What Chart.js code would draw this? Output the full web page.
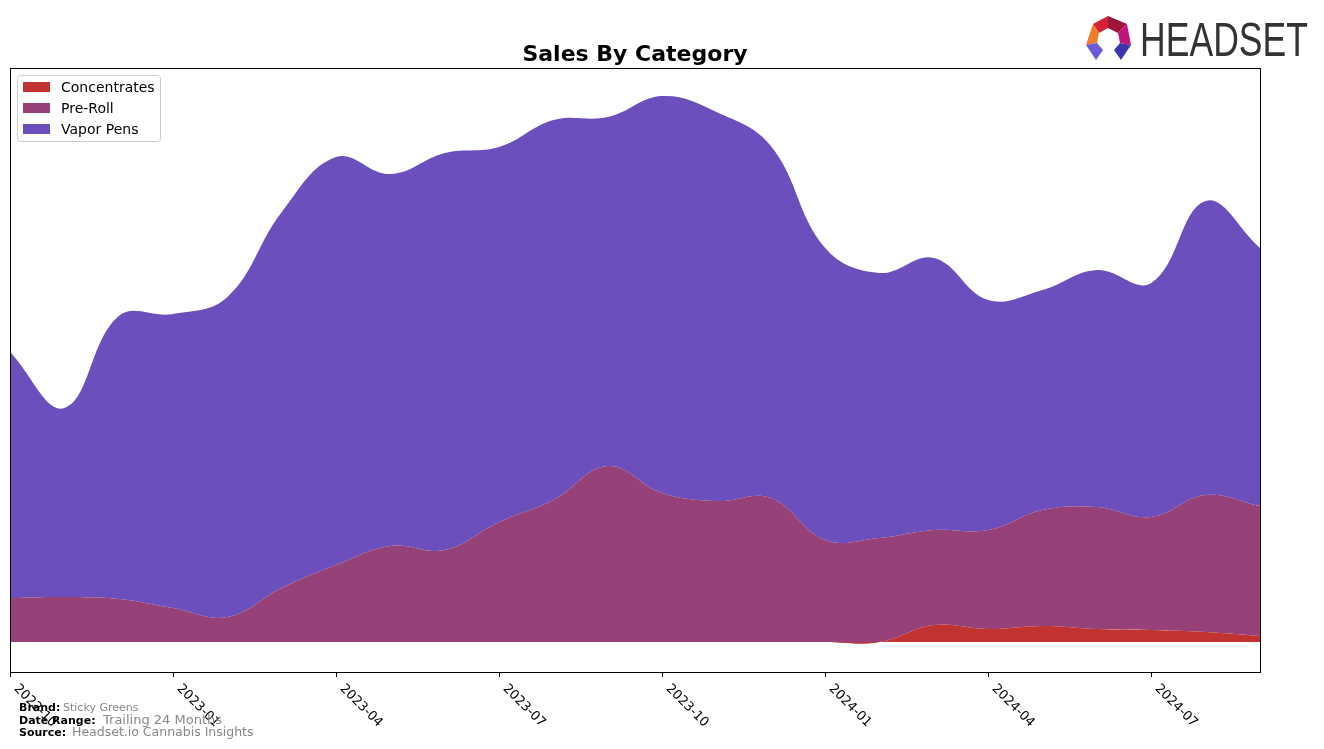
<!DOCTYPE html>
<html>
<head>
<meta charset="utf-8">
<script src="https://cdn.jsdelivr.net/npm/chart.js@4.4.1/dist/chart.umd.min.js"></script>
<style>
  html, body { margin: 0; padding: 0; background: #fff; }
  #wrap { width: 1324px; height: 749px; position: relative; }
</style>
</head>
<body>
<div id="wrap"><canvas id="salesChart" width="1324" height="749"></canvas></div>
<script>
// months on the x axis
const months = ['2022-10','2022-11','2022-12','2023-01','2023-02','2023-03','2023-04','2023-05','2023-06',
  '2023-07','2023-08','2023-09','2023-10','2023-11','2023-12','2024-01','2024-02','2024-03','2024-04',
  '2024-05','2024-06','2024-07','2024-08','2024-09'];
const tickMonths = ['2022-10','2023-01','2023-04','2023-07','2023-10','2024-01','2024-04','2024-07'];

// series values (arbitrary units)
const concentrates = [0,0,0,0,0,0,0,0,0,0,0,0,0,0,0,0,0,17,13,16,13,12,10,6];
const preRoll = [44,45,43,34,25,54,77,96,92,120,142,176,149,141,144,102,104,95,99,116,122,113,137,130];
const vaporPens = [246,189,283,294,320,376,408,372,397,375,380,349,397,389,352,292,265,272,230,220,237,234,294,258];

const seriesNames = ['Concentrates','Pre-Roll','Vapor Pens'];
const seriesColors = ['#c13331','#964177','#6a4fbd'];

const footerLines = [
  ['Brand:', 'Sticky Greens', 11, 63],
  ['Date Range:', 'Trailing 24 Months', 13, 103],
  ['Source:', 'Headset.io Cannabis Insights', 12.5, 72]
];

const FONT = '"DejaVu Sans", "Liberation Sans", sans-serif';

function drawLogo(ctx) {
  const facets = [
    ['#d4213a', [[1093,24],[1108,16],[1108,28],[1099,33]]],
    ['#9e1538', [[1108,16],[1127,24],[1118,33],[1108,28]]],
    ['#f27b2b', [[1093,24],[1099,33],[1097,43],[1086,45]]],
    ['#c2147c', [[1127,24],[1131,45],[1120,43],[1118,33]]],
    ['#6b5bd9', [[1086,45],[1097,43],[1103,50],[1096,60]]],
    ['#3b36ab', [[1131,45],[1120,43],[1114,50],[1121,60]]]
  ];
  facets.forEach(([c, pts]) => {
    ctx.beginPath();
    ctx.moveTo(pts[0][0], pts[0][1]);
    for (let k = 1; k < pts.length; k++) ctx.lineTo(pts[k][0], pts[k][1]);
    ctx.closePath();
    ctx.fillStyle = c;
    ctx.fill();
  });
  ctx.save();
  ctx.font = '49px "Liberation Sans", sans-serif';
  ctx.fillStyle = '#333333';
  ctx.textBaseline = 'alphabetic';
  ctx.textAlign = 'left';
  const w = ctx.measureText('HEADSET').width;
  ctx.translate(1140, 56);
  ctx.scale(168 / w, 1);
  ctx.fillText('HEADSET', 0, 0);
  ctx.restore();
}

const decorPlugin = {
  id: 'decor',
  afterDraw(chart) {
    const ctx = chart.ctx;
    const a = chart.chartArea;
    const xs = chart.scales.x;
    ctx.save();

    // frame
    ctx.strokeStyle = '#000';
    ctx.lineWidth = 1;
    ctx.strokeRect(a.left + 0.5, a.top + 0.5, a.right - a.left, a.bottom - a.top);

    // x ticks and rotated labels
    ctx.font = '13px ' + FONT;
    ctx.fillStyle = '#000';
    ctx.textAlign = 'left';
    ctx.textBaseline = 'top';
    tickMonths.forEach(m => {
      const px = Math.round(xs.getPixelForValue(months.indexOf(m))) + 0.5;
      ctx.beginPath();
      ctx.moveTo(px, a.bottom);
      ctx.lineTo(px, a.bottom + 5);
      ctx.stroke();
      ctx.save();
      ctx.translate(px + 10, a.bottom + 10);
      ctx.rotate(Math.PI / 4);
      ctx.fillText(m, 0, 0);
      ctx.restore();
    });

    // title
    ctx.font = 'bold 22px ' + FONT;
    ctx.textAlign = 'center';
    ctx.textBaseline = 'alphabetic';
    ctx.fillText('Sales By Category', (a.left + a.right) / 2, 61);

    // legend
    ctx.beginPath();
    ctx.roundRect(17.5, 75.5, 143, 66, 3);
    ctx.fillStyle = 'rgba(255,255,255,0.8)';
    ctx.fill();
    ctx.strokeStyle = '#cccccc';
    ctx.stroke();
    ctx.font = '14px ' + FONT;
    ctx.textAlign = 'left';
    ctx.textBaseline = 'middle';
    seriesNames.forEach((n, k) => {
      const y = 87 + k * 21;
      ctx.fillStyle = seriesColors[k];
      ctx.fillRect(23, y - 5, 27, 10);
      ctx.fillStyle = '#000';
      ctx.fillText(n, 61, y + 1);
    });

    // footer
    ctx.textBaseline = 'alphabetic';
    footerLines.forEach(([lab, val, sz, vx], k) => {
      const y = 711 + k * 12.5;
      ctx.font = 'bold 11px ' + FONT;
      ctx.fillStyle = '#000';
      ctx.fillText(lab, 19, y);
      ctx.font = sz + 'px ' + FONT;
      ctx.fillStyle = '#888888';
      ctx.fillText(val, vx, y);
    });

    drawLogo(ctx);
    ctx.restore();
  }
};

const ctx = document.getElementById('salesChart');
const salesChart = new Chart(ctx, {
  type: 'line',
  data: {
    labels: months,
    datasets: [
      { label: seriesNames[0], data: concentrates, backgroundColor: seriesColors[0], fill: 'origin' },
      { label: seriesNames[1], data: preRoll, backgroundColor: seriesColors[1], fill: '-1' },
      { label: seriesNames[2], data: vaporPens, backgroundColor: seriesColors[2], fill: '-1' }
    ]
  },
  options: {
    responsive: false,
    animation: false,
    layout: { padding: { left: 10, right: 64, top: 68, bottom: 77 } },
    elements: {
      line: { tension: 0.4, borderWidth: 0, borderColor: 'rgba(0,0,0,0)' },
      point: { radius: 0 }
    },
    scales: {
      x: { display: false, offset: false },
      y: { display: false, stacked: true, min: -30, max: 574 }
    },
    plugins: {
      legend: { display: false },
      title: { display: false },
      tooltip: { enabled: false }
    }
  },
  plugins: [decorPlugin]
});
</script>
</body>
</html>
